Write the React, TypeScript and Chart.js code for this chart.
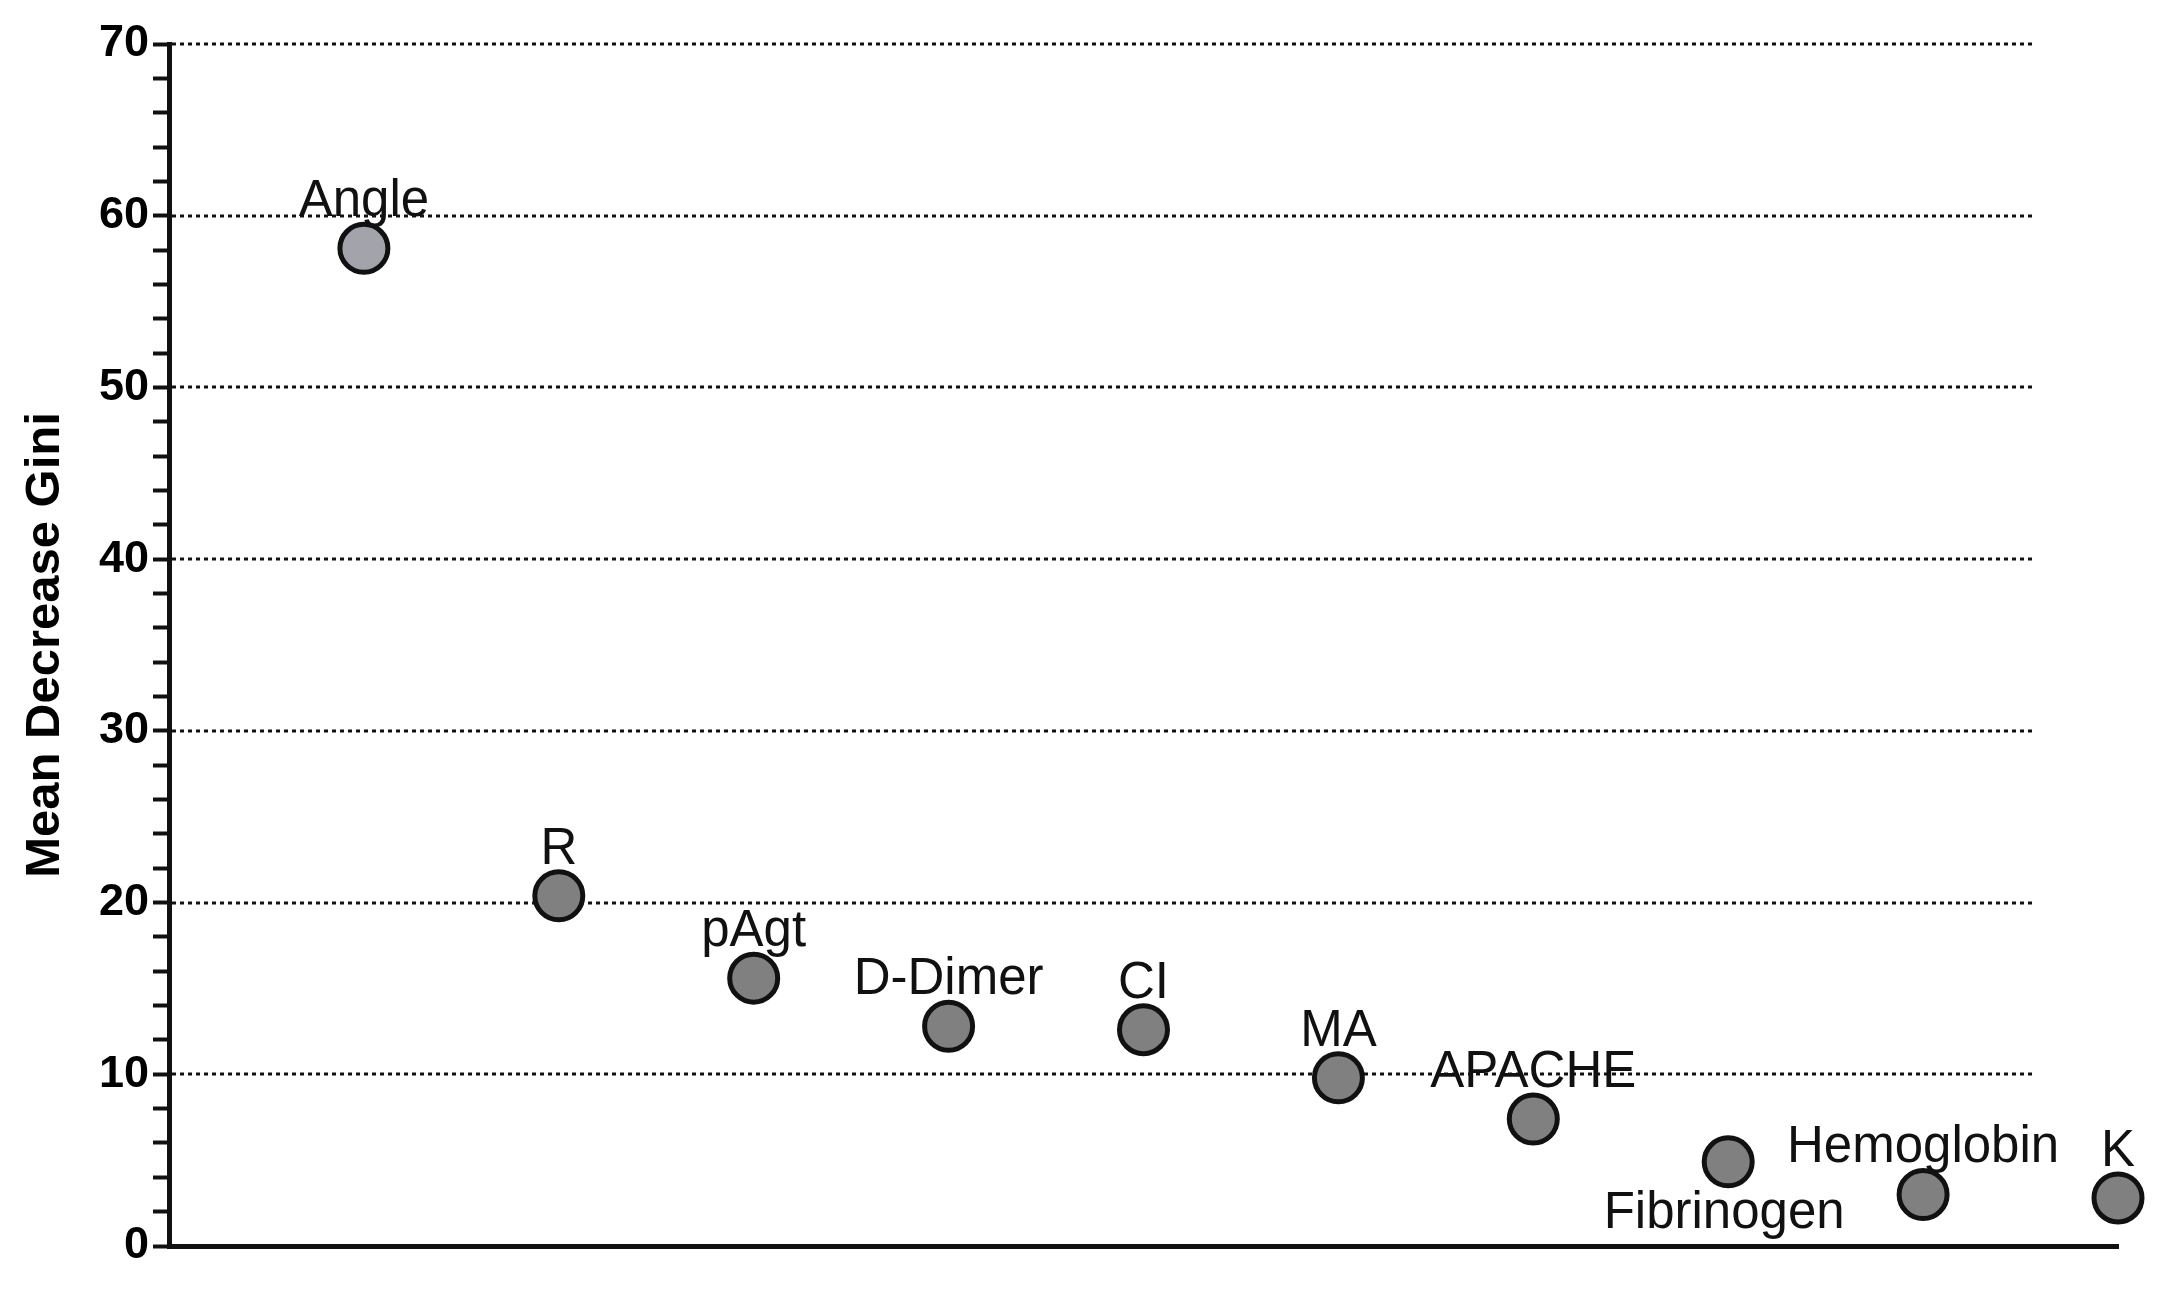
import React, { useEffect, useRef } from 'react';
import { Chart, registerables } from 'chart.js';

Chart.register(...registerables);

const categories = ['Angle', 'R', 'pAgt', 'D-Dimer', 'CI', 'MA', 'APACHE', 'Fibrinogen', 'Hemoglobin', 'K'];
const meanDecreaseGini = [58.1, 20.4, 15.6, 12.8, 12.6, 9.8, 7.4, 4.9, 3.0, 2.8];
const yGridValues = [10, 20, 30, 40, 50, 60, 70];
const labelsBelow = ['Fibrinogen'];
const yTitle = 'Mean Decrease Gini';

const W = 2173;
const H = 1294;
const GRID_END = 9.57;
const FONT = '"Liberation Sans", Arial, Helvetica, sans-serif';

const dottedGrid = {
  id: 'dottedGrid',
  beforeDatasetsDraw(chart: any) {
    const { ctx, scales } = chart;
    const x = scales.x;
    const y = scales.y;
    const x0 = x.getPixelForValue(0) + 3;
    const x1 = x.getPixelForValue(GRID_END);
    ctx.save();
    ctx.setLineDash([4, 4]);
    ctx.lineWidth = 3;
    ctx.strokeStyle = '#111';
    yGridValues.forEach((v) => {
      const py = Math.round(y.getPixelForValue(v));
      ctx.beginPath();
      ctx.moveTo(x0, py);
      ctx.lineTo(x1, py);
      ctx.stroke();
    });
    ctx.restore();
  },
};

const pointLabels = {
  id: 'pointLabels',
  afterDatasetsDraw(chart: any) {
    const { ctx } = chart;
    const meta = chart.getDatasetMeta(0);
    ctx.save();
    ctx.font = `51px ${FONT}`;
    ctx.fillStyle = '#111';
    ctx.textAlign = 'center';
    ctx.textBaseline = 'alphabetic';
    meta.data.forEach((el: any, i: number) => {
      const name = categories[i];
      const below = labelsBelow.includes(name);
      const ty = below ? el.y + 66 : el.y - 32;
      const tx = below ? el.x - 4 : el.x;
      ctx.fillText(name, tx, ty);
    });
    ctx.restore();
  },
};

export default function App() {
  const ref = useRef<HTMLCanvasElement | null>(null);

  useEffect(() => {
    if (!ref.current) return;
    const data = meanDecreaseGini.map((v, i) => ({ x: i + 1, y: v }));
    const chart = new Chart(ref.current, {
      type: 'scatter',
      data: {
        datasets: [
          {
            data,
            pointRadius: 24,
            pointBorderWidth: 5,
            pointBorderColor: '#111',
            pointBackgroundColor: categories.map((_, i) => (i === 0 ? '#a3a3ab' : '#808080')),
            showLine: false,
            clip: false as any,
          },
        ],
      },
      options: {
        responsive: false,
        animation: false,
        devicePixelRatio: 1,
        layout: { padding: { top: 44, right: 55, left: 0, bottom: 0 } },
        plugins: {
          legend: { display: false },
          tooltip: { enabled: false },
        },
        scales: {
          x: {
            type: 'linear',
            min: 0,
            max: 10,
            ticks: { display: false },
            grid: { display: false, drawTicks: false },
            border: { display: true, color: '#111', width: 5 },
            afterFit: (s: any) => {
              s.height = 48;
            },
          },
          y: {
            type: 'linear',
            min: 0,
            max: 70,
            ticks: {
              stepSize: 2,
              autoSkip: false,
              padding: 4,
              color: '#000',
              font: { family: FONT, size: 45, weight: 'bold' },
              callback: (v: any) => (Number(v) % 10 === 0 ? String(v) : ''),
            },
            grid: {
              drawOnChartArea: false,
              drawTicks: true,
              tickLength: 16,
              tickWidth: 4,
              tickColor: '#111',
            },
            border: { display: true, color: '#111', width: 5 },
            title: {
              display: true,
              text: yTitle,
              color: '#000',
              font: { family: FONT, size: 49, weight: 'bold' },
              padding: { top: 16, bottom: 0 },
            },
            afterFit: (s: any) => {
              s.width = 169;
            },
          },
        },
      },
      plugins: [dottedGrid, pointLabels],
    });
    return () => chart.destroy();
  }, []);

  return (
    <div style={{ position: 'fixed', left: 0, top: 0, width: W, height: H, background: '#fff' }}>
      <canvas ref={ref} width={W} height={H} style={{ width: W, height: H, display: 'block' }} />
    </div>
  );
}
